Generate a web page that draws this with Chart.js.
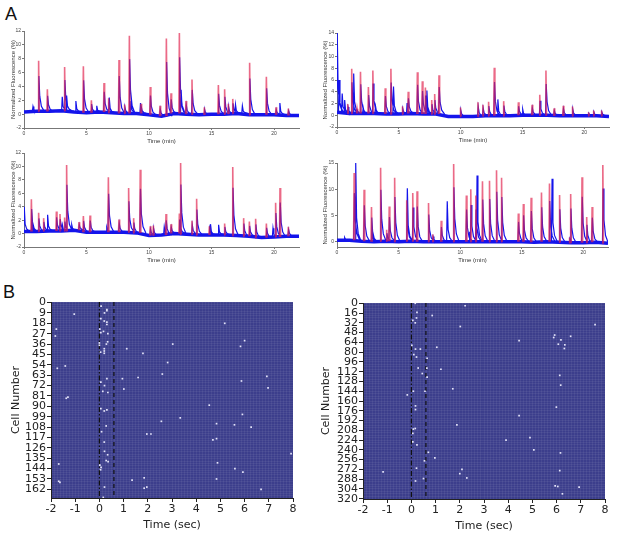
<!DOCTYPE html>
<html>
<head>
<meta charset="utf-8">
<script src="https://cdn.jsdelivr.net/npm/chart.js@4.4.0/dist/chart.umd.min.js"></script>
<style>
  body { margin: 0; background: #fff; width: 617px; height: 535px; position: relative; overflow: hidden; font-family: "Liberation Sans", Arial, sans-serif; }
  canvas { position: absolute; }
  .lbl { position: absolute; font-size: 18px; color: #111; line-height: 1; }
</style>
</head>
<body>
<div class="lbl" style="left:5px;top:5px">A</div>
<div class="lbl" style="left:3px;top:283px">B</div>
<canvas id="a1" width="296" height="125" style="left:8px;top:22px"></canvas>
<canvas id="a2" width="294" height="122" style="left:320px;top:24px"></canvas>
<canvas id="a3" width="296" height="122" style="left:8px;top:144px"></canvas>
<canvas id="a4" width="293" height="112" style="left:320px;top:154px"></canvas>
<canvas id="b1" width="295" height="242" style="left:8px;top:292px"></canvas>
<canvas id="b2" width="297" height="243" style="left:318px;top:292px"></canvas>
<script>
// ====== DATA: calcium traces (time in min, normalized fluorescence %) ======
const baseTimes = [0,1,2,3,4,5,6,7,8,9,10,11,12,13,14,15,16,17,18,19,20,21,22];
const minTicks = [0, 5, 10, 15, 20];

const p1Base = [0.3,0.4,0.4,0.5,0.3,0.2,0.3,0.2,0.1,0.1,-0.1,-0.3,0.1,0.0,-0.1,0.0,0.0,0.1,-0.1,-0.1,-0.1,-0.2,-0.2];
const p1RedT = [1.17,1.87,3.25,4.75,5.39,6.40,6.77,7.60,8.05,8.43,9.36,10.10,10.88,11.39,11.76,12.43,12.96,13.44,14.43,15.55,16.05,16.35,16.70,18.05,19.39,20.16,21.15];
const p1RedH = [7.7,3.6,6.8,6.9,2.0,4.5,2.3,7.8,1.4,11.3,1.5,3.9,1.2,10.9,3.0,11.7,1.9,5.0,1.0,4.2,3.6,1.5,2.2,7.4,5.4,1.0,0.8];
const p1BlueT = [0.7,3.04,3.39,4.13,5.8,6.8,8.55,9.3,12.55,16.9,17.45,20.45];
const p1BlueH = [1.1,2.5,2.7,1.9,1.2,2.4,1.9,1.6,3.5,1.4,1.2,1.6];
const p1YTicks = [-2,0,2,4,6,8,10,12];

const p2Base = [0.5,0.3,0.3,0.3,0.2,0.2,0.3,0.2,0.2,-0.2,-0.2,-0.2,-0.1,-0.1,-0.1,0.0,0.0,0.0,-0.1,-0.1,-0.1,-0.1,-0.2];
const p2RedT = [0.87,1.19,1.62,1.90,2.54,2.90,3.90,4.36,5.30,5.76,6.50,6.90,7.15,7.66,7.90,8.25,9.99,11.40,11.80,12.26,12.72,13.48,14.67,15.78,16.40,16.90,17.56,18.30,19.05,20.35,20.76,21.40];
const p2RedH = [1.9,7.9,1.1,7.4,4.8,7.6,4.6,7.9,1.5,4.0,7.3,5.8,4.7,2.6,3.6,6.8,1.3,2.2,1.8,2.3,8.1,2.4,2.2,1.8,3.5,7.6,1.2,1.6,1.5,0.5,0.8,0.8];
const p2BlueT = [0.0,0.15,0.4,0.6,1.33,2.1,3.1,4.55,5.65,7.25,12.99,15.0];
const p2BlueH = [14,6,3.7,2.6,7.1,1.3,1.5,4.9,2.1,4.2,2.7,1.0];
const p2YTicks = [-2,0,2,4,6,8,10,12,14];

const p3Base = [0.3,0.3,0.4,0.4,0.5,0.2,0.2,0.2,0.2,0.1,-0.3,-0.2,0.0,-0.1,-0.2,-0.2,-0.2,-0.3,-0.4,-0.6,-0.5,-0.4,-0.4];
const p3RedT = [0.59,1.17,1.57,2.59,2.88,3.25,3.41,4.40,4.75,5.28,6.75,7.60,8.37,8.77,9.30,10.10,10.35,11.36,11.76,12.43,12.53,13.44,13.81,14.83,16.05,16.70,17.57,18.03,18.53,19.39,20.13,20.48,21.15];
const p3RedH = [5.1,3.1,2.3,3.3,2.9,2.4,10.2,1.7,2.6,2.7,8.4,2.1,6.8,2.3,9.5,1.1,1.2,2.9,1.4,3.0,10.5,1.9,5.2,1.1,1.5,9.9,2.3,1.8,2.2,1.5,4.6,6.8,1.0];
const p3BlueT = [0.0,0.67,1.87,3.05,3.8,6.6,11.2,14.9,15.55,19.9];
const p3BlueH = [4.0,1.5,2.8,1.3,1.3,0.9,1.0,1.4,1.3,0.8];
const p3YTicks = [-2,0,2,4,6,8,10,12];

const p4Base = [0.3,0.3,0.1,0.0,0.1,0.0,0.1,0.0,0.0,0.0,0.0,0.0,0.0,0.0,0.0,0.0,-0.1,0.0,-0.1,-0.2,-0.2,-0.1,-0.3];
const p4RedT = [1.39,2.20,2.80,3.54,4.03,4.24,4.68,5.66,6.15,6.50,7.43,7.78,8.46,9.47,10.50,10.86,11.27,11.81,12.38,12.95,13.36,14.72,15.13,15.76,16.60,17.25,18.07,18.88,18.97,19.89,20.27,20.71,21.58];
const p4RedH = [13.1,9.9,6.6,14.1,2.3,6.7,12.2,7.9,9.3,9.6,7.4,1.4,4.0,14.8,8.8,10.0,8.8,11.5,11.6,13.6,12.2,5.4,7.2,8.4,9.4,11.1,8.9,0.8,9.1,12.3,4.7,6.6,14.6];
const p4BlueT = [0.6,1.50,2.85,5.69,8.93,10.75,11.35,17.44];
const p4BlueH = [0.8,15.0,1.8,10.2,7.7,1.9,12.6,12.0];
const p4YTicks = [0,5,10,15];

// ====== DATA: raster (time in sec, cell number) ======
const secTicks = [-2,-1,0,1,2,3,4,5,6,7,8];
const eventTimes = [0, 0.6];
const cellTicksLeft = [0,9,18,27,36,45,54,63,72,81,90,99,108,117,126,135,144,153,162];
const cellTicksRight = [0,16,32,48,64,80,96,112,128,144,160,176,192,208,224,240,256,272,288,304,320];
const rasterLeft = [[0.07,3],[0.31,6],[0.31,7],[0.21,9],[-1.04,10],[0.06,14],[0.2,16],[0.31,17],[0.31,19],[5.18,18],[-1.78,23],[0.02,23],[0.17,25],[0.06,26],[0.35,27],[-1.82,29],[6.0,33],[0.34,34],[0.0,35],[0.29,36],[0.0,37],[3.03,36],[5.83,38],[1.13,40],[0.2,40],[0.2,42],[0.05,43],[0.2,44],[1.8,44],[2.82,52],[-1.41,55],[-1.74,57],[2.6,62],[6.92,64],[0.31,66],[0.95,66],[1.6,65],[5.87,68],[0.06,69],[0.21,72],[1.01,75],[6.97,74],[0.14,77],[0.35,78],[-1.3,82],[-1.37,83],[4.54,89],[0.06,92],[0.31,93],[0.2,94],[3.34,100],[5.91,97],[2.56,103],[4.84,105],[5.58,106],[0.28,107],[6.27,108],[0.09,112],[2.13,114],[1.96,114],[4.84,118],[4.69,119],[0.2,121],[0.21,129],[0.34,132],[0.28,137],[0.36,138],[7.92,131],[-1.68,140],[4.88,139],[0.02,141],[0.07,143],[0.05,145],[5.6,144],[5.93,147],[1.85,152],[1.35,154],[-1.68,155],[-1.63,156],[4.84,153],[0.21,160],[1.96,160],[1.85,161],[6.68,162],[0.16,169]];
const rasterRight = [[0.16,0],[2.22,4],[0.23,15],[0.86,20],[0.21,24],[0.06,28],[0.16,32],[7.59,35],[2.02,38],[5.92,52],[5.88,56],[6.58,54],[4.45,61],[6.18,60],[6.07,67],[6.34,68],[6.32,74],[0.02,69],[1.05,72],[0.17,75],[0.37,75],[0.1,84],[0.21,88],[0.65,90],[0.28,106],[0.64,106],[1.22,108],[0.45,115],[0.65,121],[6.13,118],[6.17,134],[1.71,140],[0.08,144],[0.56,144],[-0.17,150],[0.17,168],[0.17,174],[5.99,170],[4.45,184],[1.88,199],[0.08,206],[0.16,205],[0.06,213],[4.9,220],[3.91,224],[0.06,227],[0.23,232],[5.06,240],[0.7,244],[6.16,245],[0.97,253],[0.54,258],[0.21,270],[2.09,272],[-1.17,276],[6.13,274],[2.0,279],[2.29,286],[0.5,287],[0.17,291],[5.94,299],[6.05,300],[6.93,301],[6.24,312]];

Chart.defaults.animation = false;

// baseline level nearest to a spike time
function baseAt(base, t) {
    return base[Math.min(base.length - 1, Math.max(0, Math.round(t)))];
}

function redSpikes(ts, hs, base) {
    const pts = [];
    ts.forEach((t, i) => {
        const b = baseAt(base, t);
        pts.push({x: t - 0.04, y: b}, {x: t, y: hs[i]}, {x: t + 0.05, y: b}, {x: t + 0.05, y: null});
    });
    return pts;
}

function blueSpikes(ts, hs, base, k) {
    const pts = [];
    ts.forEach((t, i) => {
        const b = baseAt(base, t);
        const d = hs[i] - b;
        pts.push({x: t - 0.03, y: b}, {x: t + 0.02, y: b + k * d}, {x: t + 0.09, y: b + 0.3 * d},
                 {x: t + 0.22, y: b + 0.1 * d}, {x: t + 0.45, y: b}, {x: t + 0.45, y: null});
    });
    return pts;
}

function traceChart(id, base, redT, redH, blueT, blueH, yMin, yMax, yTicks, yW) {
    const ctx = document.getElementById(id).getContext('2d');
    return new Chart(ctx, {
        type: 'line',
        data: {
            datasets: [{
                data: redSpikes(redT, redH, base),
                borderColor: 'rgba(226,36,78,0.68)',
                borderWidth: 1.6
            }, {
                data: blueSpikes(redT, redH, base, 0.7).concat(blueSpikes(blueT, blueH, base, 1)),
                borderColor: 'rgb(20,20,235)',
                borderWidth: 1.2
            }, {
                data: baseTimes.map((t, i) => ({x: t, y: base[i]})),
                borderColor: 'rgb(20,20,235)',
                borderWidth: 3.5
            }]
        },
        options: {
            responsive: false,
            spanGaps: false,
            elements: { point: { radius: 0 }, line: { tension: 0 } },
            layout: { padding: { top: 9, right: 5, left: 0, bottom: 0 } },
            plugins: { legend: { display: false }, tooltip: { enabled: false } },
            scales: {
                x: {
                    type: 'linear', min: 0, max: 22,
                    afterBuildTicks: s => { s.ticks = minTicks.map(v => ({value: v})); },
                    afterFit: s => { s.height = 19; },
                    grid: { drawOnChartArea: false, tickLength: 2, color: '#777' },
                    border: { color: '#777' },
                    ticks: { font: { size: 5, family: 'Liberation Sans' }, color: '#444', padding: 1, maxRotation: 0, autoSkip: false },
                    title: { display: true, text: 'Time (min)', font: { size: 6, family: 'Liberation Sans' }, color: '#333', padding: { top: 1, bottom: 2 } }
                },
                y: {
                    type: 'linear', min: yMin, max: yMax,
                    afterBuildTicks: s => { s.ticks = yTicks.map(v => ({value: v})); },
                    afterFit: s => { s.width = yW; },
                    grid: { drawOnChartArea: false, tickLength: 2, color: '#777' },
                    border: { color: '#777' },
                    ticks: { font: { size: 5, family: 'Liberation Sans' }, color: '#444', padding: 1, autoSkip: false },
                    title: { display: true, text: 'Normalized Fluorescence (%)', font: { size: 6, family: 'Liberation Sans' }, color: '#333', padding: { top: 2, bottom: 1 } }
                }
            }
        }
    });
}

traceChart('a1', p1Base, p1RedT, p1RedH, p1BlueT, p1BlueH, -2, 12, p1YTicks, 16);
traceChart('a2', p2Base, p2RedT, p2RedH, p2BlueT, p2BlueH, -2, 14, p2YTicks, 17);
traceChart('a3', p3Base, p3RedT, p3RedH, p3BlueT, p3BlueH, -2, 12, p3YTicks, 16);
traceChart('a4', p4Base, p4RedT, p4RedH, p4BlueT, p4BlueH, -1, 15, p4YTicks, 17);

// ====== RASTER ======
const rasterBg = {
    id: 'rasterBg',
    beforeDraw(chart) {
        const a = chart.chartArea;
        const c = chart.ctx;
        c.save();
        c.fillStyle = 'rgb(60,62,140)';
        c.fillRect(a.left, a.top, a.right - a.left, a.bottom - a.top);
        c.restore();
    }
};

function rasterChart(id, spikes, yMin, yMax, yTicks, yW, padTop, gridStep) {
    const ctx = document.getElementById(id).getContext('2d');
    const font = { family: 'DejaVu Sans', size: 11 };
    const eventSets = eventTimes.map((t, i) => ({
        type: 'line',
        data: [{x: t, y: yMin}, {x: t, y: yMax}],
        borderColor: '#111',
        borderWidth: 1.2,
        borderDash: i === 0 ? [5, 2, 1.5, 2] : [4, 3],
        pointRadius: 0
    }));
    return new Chart(ctx, {
        type: 'scatter',
        data: {
            datasets: [{
                data: spikes.map(p => ({x: p[0], y: p[1]})),
                backgroundColor: '#e4e4fa',
                borderWidth: 0,
                pointStyle: 'rect',
                pointRadius: 1.2
            }].concat(eventSets)
        },
        options: {
            responsive: false,
            layout: { padding: { top: padTop, right: 10, left: 0, bottom: 0 } },
            plugins: { legend: { display: false }, tooltip: { enabled: false } },
            scales: {
                x: {
                    type: 'linear', min: -2, max: 8,
                    afterBuildTicks: s => { s.ticks = secTicks.map(v => ({value: v})); },
                    afterFit: s => { s.height = 36; },
                    grid: { drawOnChartArea: false, tickLength: 4, color: '#222' },
                    border: { color: '#222' },
                    ticks: { font: font, color: '#222', padding: 1, maxRotation: 0, autoSkip: false },
                    title: { display: true, text: 'Time (sec)', font: font, color: '#222', padding: { top: 0, bottom: 2 } }
                },
                y: {
                    type: 'linear', min: yMin, max: yMax, reverse: true,
                    afterBuildTicks: s => { s.ticks = yTicks.map(v => ({value: v})); },
                    afterFit: s => { s.width = yW; },
                    grid: { drawOnChartArea: false, tickLength: 4, color: '#222' },
                    border: { color: '#222' },
                    ticks: { font: font, color: '#222', padding: 1, autoSkip: false },
                    title: { display: true, text: 'Cell Number', font: font, color: '#222', padding: { top: 2, bottom: 2 } }
                },
                xg: {
                    type: 'linear', axis: 'x', position: 'bottom', min: -2, max: 8,
                    afterFit: s => { s.height = 0; },
                    ticks: { display: false, stepSize: 0.125, maxTicksLimit: 1000 },
                    grid: { color: 'rgba(255,255,255,0.06)', drawTicks: false },
                    border: { display: false }
                },
                yg: {
                    type: 'linear', axis: 'y', position: 'left', min: yMin, max: yMax, reverse: true,
                    afterFit: s => { s.width = 0; },
                    ticks: { display: false, stepSize: gridStep, maxTicksLimit: 1000 },
                    grid: { color: 'rgba(255,255,255,0.06)', drawTicks: false },
                    border: { display: false }
                }
            }
        },
        plugins: [rasterBg]
    });
}

rasterChart('b1', rasterLeft, -0.5, 169.5, cellTicksLeft, 43, 10, 2);
rasterChart('b2', rasterRight, -0.5, 320.5, cellTicksRight, 45, 11, 4);
</script>
</body>
</html>
